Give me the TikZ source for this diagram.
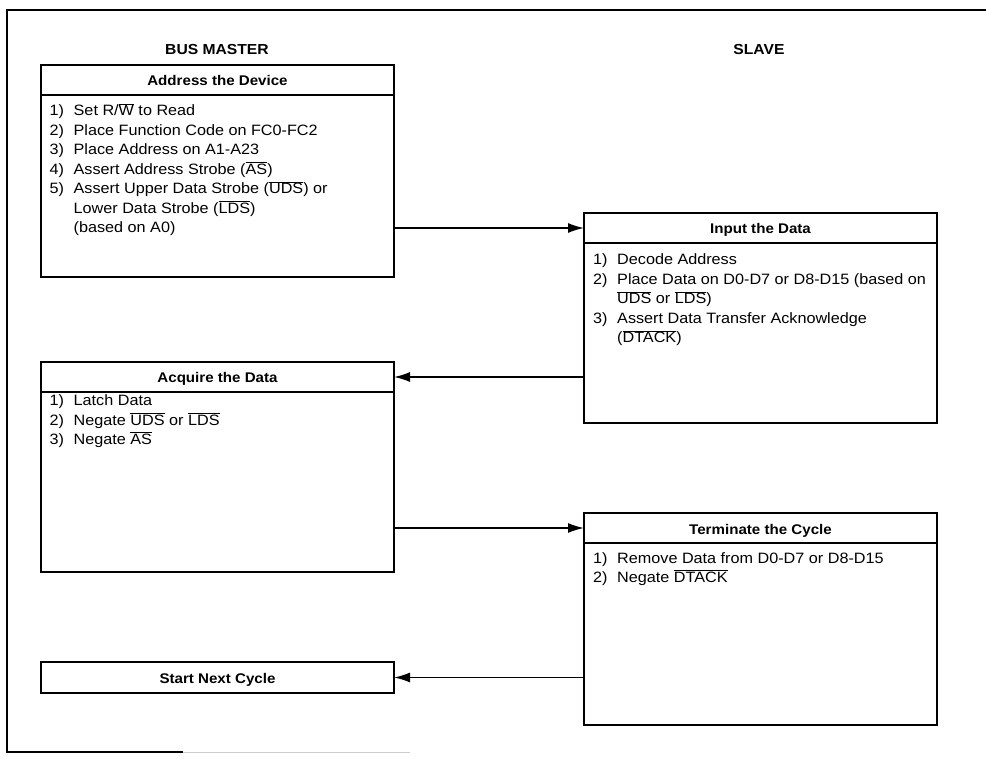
\documentclass[tikz,border=0pt]{standalone}
\usepackage{fontspec}
\setmainfont{Liberation Sans}[FakeStretch=1.08]
\usetikzlibrary{arrows.meta}
\newcommand{\olbar}[1]{$\overline{\mbox{#1}}$}
\newcommand{\numlab}[1]{\makebox[24pt][l]{#1}}
\begin{document}
\begin{tikzpicture}[x=1pt,y=-1pt,
  hdr/.style={draw, line width=2pt, anchor=north west, outer sep=0pt, inner sep=0pt,
    minimum width=353pt, minimum height=30pt,
    font=\fontsize{14}{16}\selectfont\bfseries, text height=12pt, text depth=0pt},
  bdy/.style={draw, line width=2pt, anchor=north west, outer sep=0pt, inner sep=0pt,
    minimum width=353pt},
  item/.style={anchor=base west, inner sep=0pt, font=\fontsize{15}{18}\selectfont},
  coltitle/.style={anchor=base, inner sep=0pt, font=\fontsize{14.5}{16}\selectfont\bfseries},
  flow/.style={line width=1.6pt, -{Latex[length=16pt,width=10pt]}}]
\useasboundingbox (0,0) rectangle (986,759);

% frame
\draw[line width=2pt] (986,10) -- (7,10) -- (7,752) -- (183,752);
\draw[gray!40, line width=1pt] (183,752) -- (410,752);

% column titles
\node[coltitle] (bm) at (217,55) {BUS MASTER};
\node[coltitle] (sl) at (759,55) {SLAVE};

% box 1
\node[hdr] (h1) at (41,65) {Address the Device};
\node[bdy, minimum height=182pt] (b1b) at (41,95) {};
\node[item] (a1) at (49.5,116) {\numlab{1)}Set R/\olbar{W} to Read};
\node[item] (a2) at (49.5,135.5) {\numlab{2)}Place Function Code on FC0-FC2};
\node[item] (a3) at (49.5,155) {\numlab{3)}Place Address on A1-A23};
\node[item] (a4) at (49.5,174.5) {\numlab{4)}Assert Address Strobe (\olbar{AS})};
\node[item] (a5) at (49.5,194) {\numlab{5)}Assert Upper Data Strobe (\olbar{UDS}) or};
\node[item] (a6) at (73.5,213.5) {Lower Data Strobe (\olbar{LDS})};
\node[item] (a7) at (73.5,233) {(based on A0)};

% box 2
\node[hdr] (h2) at (584,213) {Input the Data};
\node[bdy, minimum height=180pt] (b2b) at (584,243) {};
\node[item] (i1) at (593,265) {\numlab{1)}Decode Address};
\node[item] (i2) at (593,285) {\numlab{2)}Place Data on D0-D7 or D8-D15 (based on};
\node[item] (i3) at (617,304) {\olbar{UDS} or \olbar{LDS})};
\node[item] (i4) at (593,324) {\numlab{3)}Assert Data Transfer Acknowledge};
\node[item] (i5) at (617,343) {(\olbar{DTACK})};

% box 3
\node[hdr] (h3) at (41,362) {Acquire the Data};
\node[bdy, minimum height=180pt] (b3b) at (41,392) {};
\node[item] (q1) at (49.5,406) {\numlab{1)}Latch Data};
\node[item] (q2) at (49.5,425) {\numlab{2)}Negate \olbar{UDS} or \olbar{LDS}};
\node[item] (q3) at (49.5,444) {\numlab{3)}Negate \olbar{AS}};

% box 4
\node[hdr] (h4) at (584,513) {Terminate the Cycle};
\node[bdy, minimum height=182pt] (b4b) at (584,543) {};
\node[item] (t1) at (593,563) {\numlab{1)}Remove Data from D0-D7 or D8-D15};
\node[item] (t2) at (593,582) {\numlab{2)}Negate \olbar{DTACK}};

% box 5
\node[hdr, minimum height=31pt] (b5) at (41,662) {Start Next Cycle};

% connectors
\draw[flow] (b1b.east |- h2.west) -- (h2.west);
\draw[flow] (b2b.west |- h3.east) -- (h3.east);
\draw[flow] (b3b.east |- h4.west) -- (h4.west);
\draw[flow] (b4b.west |- b5.east) -- (b5.east);
\end{tikzpicture}
\end{document}
